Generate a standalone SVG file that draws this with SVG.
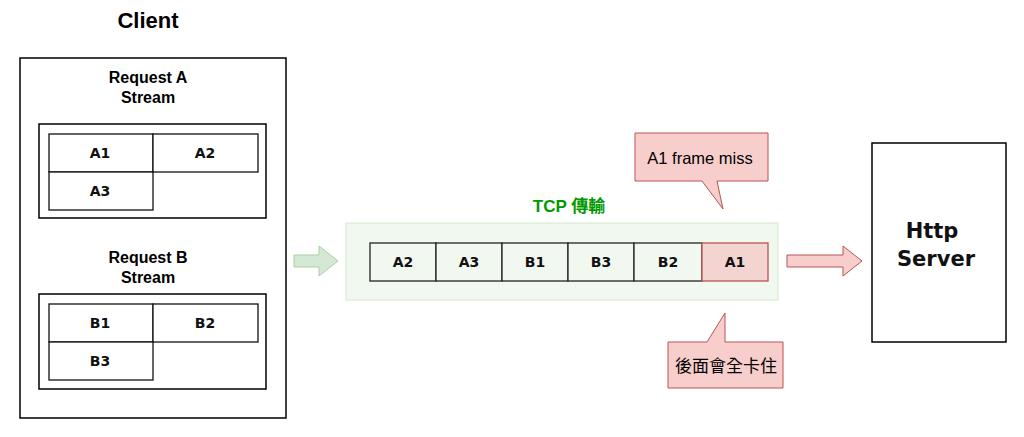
<svg xmlns="http://www.w3.org/2000/svg" width="1024" height="437" viewBox="0 0 1024 437">
<style>
.box{fill:#fff;stroke:#000;stroke-width:1.5}
.cell{fill:#fff;stroke:#111;stroke-width:1.3}
.tcell{fill:#f1f8ef;stroke:#222;stroke-width:1.3}
.title{font-family:"Liberation Sans",Arial,sans-serif;font-weight:bold;fill:#000;text-anchor:middle}
.comic{font-family:"DejaVu Sans",sans-serif;font-weight:bold;fill:#111;text-anchor:middle}
.note{fill:#f8cecc;stroke:#b85450;stroke-width:1}
.ntext{font-family:"Liberation Sans","Noto Sans CJK TC",sans-serif;fill:#000;text-anchor:middle}
</style>
<rect width="1024" height="437" fill="#fff"/>
<g id="client">
<text class="title" x="148" y="28" font-size="22">Client</text>
<rect class="box" x="20" y="58" width="266" height="360"/>
</g>
<g id="streamA">
<text class="title" x="148" y="83" font-size="16">Request A</text>
<text class="title" x="148" y="103" font-size="16">Stream</text>
<rect class="box" x="39" y="124" width="227" height="94"/>
<rect class="cell" x="49" y="134" width="104" height="38"/>
<rect class="cell" x="153" y="134" width="105" height="38"/>
<rect class="cell" x="49" y="172" width="104" height="38"/>
<text class="comic" x="100" y="158" font-size="14">A1</text>
<text class="comic" x="205" y="158" font-size="14">A2</text>
<text class="comic" x="100" y="196" font-size="14">A3</text>
</g>
<g id="streamB">
<text class="title" x="148" y="263" font-size="16">Request B</text>
<text class="title" x="148" y="283" font-size="16">Stream</text>
<rect class="box" x="39" y="294" width="227" height="95"/>
<rect class="cell" x="49" y="304" width="104" height="38"/>
<rect class="cell" x="153" y="304" width="105" height="38"/>
<rect class="cell" x="49" y="342" width="104" height="38"/>
<text class="comic" x="100" y="328" font-size="14">B1</text>
<text class="comic" x="205" y="328" font-size="14">B2</text>
<text class="comic" x="100" y="366" font-size="14">B3</text>
</g>
<g id="tcp">
<text x="569" y="212" font-family="Liberation Sans,'Noto Sans CJK TC',sans-serif" font-size="17" font-weight="bold" fill="#009900" text-anchor="middle">TCP 傳輸</text>
<rect x="346" y="223" width="432" height="77" fill="#f1f8ef" stroke="#dbecd6" stroke-width="1.2"/>
<rect class="tcell" x="370" y="243" width="66" height="38"/>
<rect class="tcell" x="436" y="243" width="66" height="38"/>
<rect class="tcell" x="502" y="243" width="66" height="38"/>
<rect class="tcell" x="568" y="243" width="66" height="38"/>
<rect class="tcell" x="634" y="243" width="68" height="38"/>
<rect x="702" y="243" width="66" height="38" fill="#f3d4d1" stroke="#b85450" stroke-width="1.3"/>
<text class="comic" x="403" y="267" font-size="14">A2</text>
<text class="comic" x="469" y="267" font-size="14">A3</text>
<text class="comic" x="535" y="267" font-size="14">B1</text>
<text class="comic" x="601" y="267" font-size="14">B3</text>
<text class="comic" x="668" y="267" font-size="14">B2</text>
<text class="comic" x="735" y="267" font-size="14">A1</text>
</g>
<g id="missNote">
<path class="note" d="M635,133 H768 V181 H717 L723,209 L702,181 H635 Z"/>
<text class="ntext" x="700" y="164" font-size="16.5">A1 frame miss</text>
</g>
<g id="stuckNote">
<path class="note" d="M668,342 H707 L725,313 V342 H783 V388 H668 Z"/>
<text class="ntext" x="726" y="372" font-size="17">後面會全卡住</text>
</g>
<g id="server">
<rect class="box" x="872" y="143" width="134" height="199"/>
<text class="comic" x="932" y="238" font-size="21">Http</text>
<text class="comic" x="936" y="266" font-size="21">Server</text>
</g>
<g id="connectors">
<path d="M294,255 H319 V246 L338,261 L319,276 V267 H294 Z" fill="#d5e8d4" stroke="#a9cfa4" stroke-width="1"/>
<path d="M787,255 H843 V246 L862,261 L843,276 V267 H787 Z" fill="#f8cecc" stroke="#b85450" stroke-width="1"/>
</g>
</svg>
